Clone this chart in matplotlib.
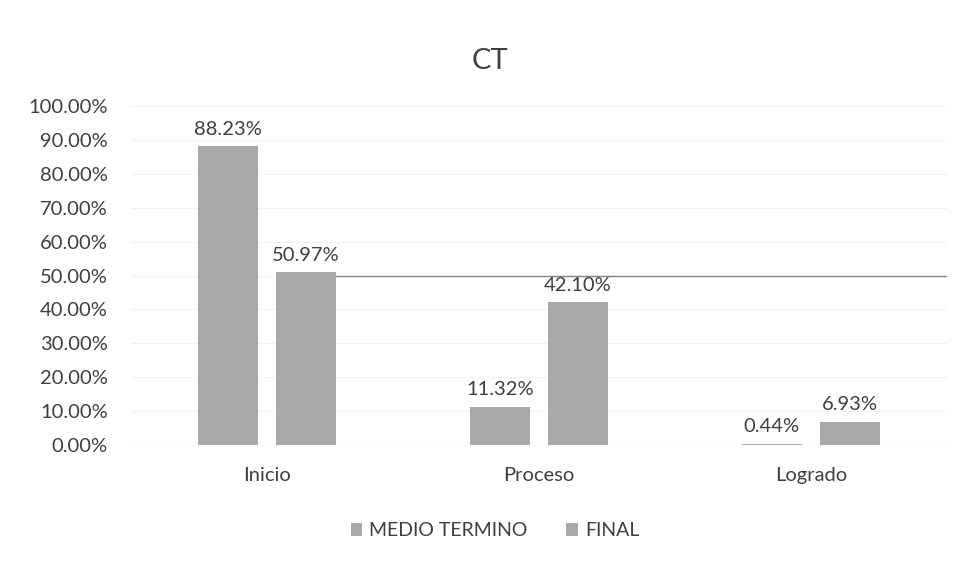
import matplotlib
matplotlib.use("Agg")
import matplotlib.pyplot as plt
import numpy as np

categories = ["Inicio", "Proceso", "Logrado"]
series_names = ["MEDIO TERMINO", "FINAL"]
medio_termino = [0.8823, 0.1132, 0.0044]
final = [0.5097, 0.4210, 0.0693]
yticks = [0.0, 0.1, 0.2, 0.3, 0.4, 0.5, 0.6, 0.7, 0.8, 0.9, 1.0]
ref_line = 0.50

plt.rcParams['font.family'] = ['Lato', 'DejaVu Sans']
text_col = "#3f3f3f"
bar_col = "#a9a9a9"

fig = plt.figure(figsize=(9.65, 5.67), dpi=100)
ax = fig.add_axes([0.136, 0.215, 0.845, 0.598])

x = np.arange(len(categories))
w = 0.22
off = 0.143
b1 = ax.bar(x - off, medio_termino, w, color=bar_col, label=series_names[0], zorder=3)
b2 = ax.bar(x + off, final, w, color=bar_col, label=series_names[1], zorder=3)

for bars, vals in ((b1, medio_termino), (b2, final)):
    for r, v in zip(bars, vals):
        ax.annotate(f"{v*100:.2f}%", (r.get_x() + r.get_width()/2, v),
                    xytext=(0, 6), textcoords="offset points",
                    ha="center", va="bottom", fontsize=14.5, color=text_col, zorder=4)

# horizontal reference line starting at right edge of Inicio FINAL bar
x0 = b2[0].get_x() + b2[0].get_width()
ax.plot([x0, 2.5], [ref_line, ref_line], color="#808080", lw=1.0, zorder=5)

ax.set_xlim(-0.5, 2.5)
ax.set_ylim(0, 1.0)
ax.set_yticks(yticks)
ax.set_yticklabels([f"{t*100:.2f}%" for t in yticks])
ax.set_xticks(x)
ax.set_xticklabels(categories)
ax.tick_params(axis="both", length=0, labelsize=14.5, colors=text_col)
ax.tick_params(axis="x", pad=16)
ax.tick_params(axis="y", pad=17)
ax.grid(axis="y", color="#f2f2f2", lw=0.8, zorder=0)
for s in ax.spines.values():
    s.set_visible(False)
ax.axhline(0, color="#e6e6e6", lw=0.8, zorder=2)

fig.text(0.508, 0.893, "CT", ha="center", va="center", fontsize=21, color=text_col)

handles = [b1, b2]
fig.legend(handles, series_names, loc="center", bbox_to_anchor=(0.513, 0.064), ncol=2,
           frameon=False, fontsize=14, handlelength=0.6, handleheight=0.6,
           handletextpad=0.35, columnspacing=2.0, labelcolor=text_col)

fig.savefig("out.png", dpi=100, facecolor="white")
